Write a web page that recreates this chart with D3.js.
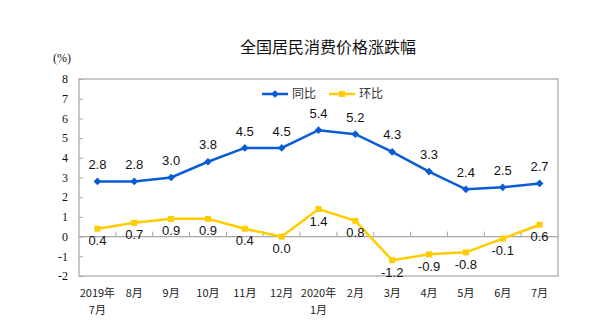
<!DOCTYPE html>
<html><head><meta charset="utf-8">
<script src="https://cdn.jsdelivr.net/npm/d3@7"></script>
<style>body{margin:0;background:#fff}svg{display:block}</style>
</head><body><svg id="c" width="600" height="336"></svg>
<script>
const categories = [["2019年","7月"],["8月"],["9月"],["10月"],["11月"],["12月"],["2020年","1月"],["2月"],["3月"],["4月"],["5月"],["6月"],["7月"]];
const yoy = [2.8,2.8,3.0,3.8,4.5,4.5,5.4,5.2,4.3,3.3,2.4,2.5,2.7];
const mom = [0.4,0.7,0.9,0.9,0.4,0.0,1.4,0.8,-1.2,-0.9,-0.8,-0.1,0.6];
const yTicks = [-2,-1,0,1,2,3,4,5,6,7,8];
const title = "全国居民消费价格涨跌幅";
const unit = "(%)";
const seriesNames = ["同比","环比"];

const svg = d3.select("#c");
const L=79, R=558, T=79, B=276;
const x = d3.scaleBand().domain(d3.range(categories.length)).range([L,R]);
const y = d3.scaleLinear().domain([-2,8]).range([B,T]);
const cx = i => x(i)+x.bandwidth()/2;
const blue="#0a5cd6", yellow="#ffcc00", grey="#a6a6a6";

svg.append("text").attr("x",328).attr("y",53).attr("text-anchor","middle")
  .attr("font-family","Noto Sans CJK SC").attr("font-size",16).attr("fill","#111").text(title);
svg.append("text").attr("x",62).attr("y",62).attr("text-anchor","middle")
  .attr("font-family","Liberation Serif, Noto Sans CJK SC").attr("font-size",12).attr("fill","#111").text(unit);

// frame
svg.append("rect").attr("x",L).attr("y",T).attr("width",R-L).attr("height",B-T)
  .attr("fill","none").attr("stroke",grey).attr("stroke-width",1.2);

// y axis
const ya = svg.append("g").attr("transform",`translate(${L},0)`)
  .call(d3.axisRight(y).tickValues(yTicks).tickSize(4).tickFormat(""));
ya.select(".domain").remove();
ya.selectAll("line").attr("stroke",grey);
svg.append("g").selectAll("text").data(yTicks).join("text")
  .attr("x",68).attr("y",d=>y(d)).attr("dy","0.35em").attr("text-anchor","end")
  .attr("font-family","Liberation Serif").attr("font-size",12).attr("fill","#111").text(d=>d);

// zero axis with ticks at band boundaries
svg.append("line").attr("x1",L).attr("x2",R).attr("y1",y(0)).attr("y2",y(0)).attr("stroke",grey).attr("stroke-width",1.2);
svg.append("g").selectAll("line").data(d3.range(1,categories.length)).join("line")
  .attr("x1",i=>x(i)).attr("x2",i=>x(i)).attr("y1",y(0)-5).attr("y2",y(0)).attr("stroke",grey);

// x labels
const xl = svg.append("g").selectAll("text").data(categories).join("text")
  .attr("font-family","Noto Sans CJK SC").attr("font-size",11).attr("fill","#222").attr("text-anchor","middle");
xl.each(function(lines,i){
  const t=d3.select(this);
  lines.forEach((s,k)=>t.append("tspan").attr("x",cx(i)).attr("y",297+k*17).text(s));
});

// lines
const line = d3.line().x((d,i)=>cx(i)).y(d=>y(d));
svg.append("path").datum(mom).attr("d",line).attr("fill","none").attr("stroke",yellow).attr("stroke-width",2.5);
svg.append("path").datum(yoy).attr("d",line).attr("fill","none").attr("stroke",blue).attr("stroke-width",2.5);

svg.append("g").selectAll("rect").data(mom).join("rect")
  .attr("x",(d,i)=>cx(i)-3).attr("y",d=>y(d)-3).attr("width",6).attr("height",6).attr("fill",yellow);
const diamond = d3.symbol().type(d3.symbolDiamond2).size(38);
svg.append("g").selectAll("path").data(yoy).join("path")
  .attr("transform",(d,i)=>`translate(${cx(i)},${y(d)})`).attr("d",diamond).attr("fill",blue);

// data labels
svg.append("g").selectAll("text").data(yoy).join("text")
  .attr("x",(d,i)=>cx(i)).attr("y",d=>y(d)-17).attr("dy","0.35em").attr("text-anchor","middle")
  .attr("font-family","Liberation Sans").attr("font-size",13).attr("fill","#111").text(d=>d.toFixed(1));
svg.append("g").selectAll("text").data(mom).join("text")
  .attr("x",(d,i)=>cx(i)).attr("y",d=>y(d)+12).attr("dy","0.35em").attr("text-anchor","middle")
  .attr("font-family","Liberation Sans").attr("font-size",13).attr("fill","#111").text(d=>d.toFixed(1));

// legend
const lg = svg.append("g");
[[blue,262,292,"d"],[yellow,329,359,"s"]].forEach(([c,x0,tx,m],k)=>{
  lg.append("line").attr("x1",x0).attr("x2",x0+26).attr("y1",94).attr("y2",94).attr("stroke",c).attr("stroke-width",2.5);
  if(m==="d") lg.append("path").attr("transform",`translate(${x0+13},94)`).attr("d",diamond).attr("fill",c);
  else lg.append("rect").attr("x",x0+10).attr("y",91).attr("width",6).attr("height",6).attr("fill",c);
  lg.append("text").attr("x",tx).attr("y",94).attr("dy","0.35em").attr("font-family","Noto Sans CJK SC")
    .attr("font-size",12).attr("fill","#333").text(seriesNames[k]);
});
</script></body></html>
